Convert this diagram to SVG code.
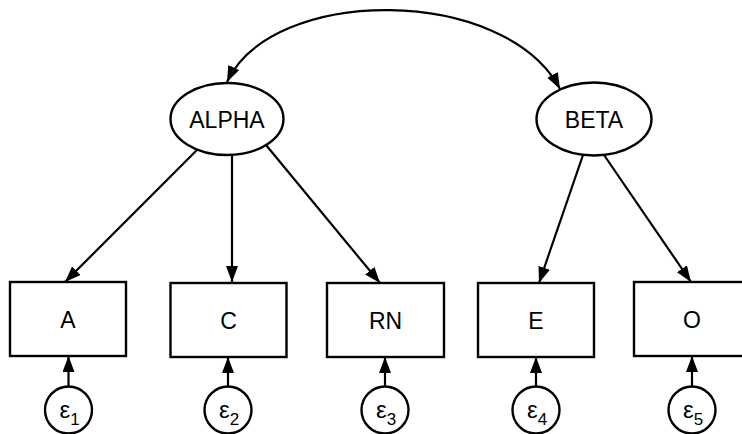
<svg xmlns="http://www.w3.org/2000/svg" width="742" height="434" viewBox="0 0 742 434">
  <defs>
    <marker id="arrow" markerUnits="userSpaceOnUse" markerWidth="17" markerHeight="13" refX="16" refY="6" orient="auto-start-reverse">
      <path d="M0,0 L16,6 L0,12 z" fill="#000"/>
    </marker>
    <style>
      .node { fill: #fff; stroke: #000; stroke-width: 2.4; }
      .lbl { font-family: "Liberation Sans", Arial, Helvetica, sans-serif; font-size: 23px; fill: #000; text-anchor: middle; }
      .eps { font-family: "Liberation Sans", Arial, Helvetica, sans-serif; font-size: 24px; fill: #000; }
      .sub { font-size: 17px; }
      .edge { fill: none; stroke: #000; stroke-width: 2.2; marker-end: url(#arrow); }
      .cov { marker-start: url(#arrow); }
    </style>
  </defs>

  <!-- connectors -->
  <g id="edges">
    <path class="edge cov" d="M227,82 C272,-15 505,-15 560,89"/>
    <line class="edge" x1="197" y1="150" x2="65" y2="282"/>
    <line class="edge" x1="232" y1="155" x2="232" y2="282"/>
    <line class="edge" x1="266" y1="145" x2="380" y2="283"/>
    <line class="edge" x1="583" y1="155" x2="539" y2="283"/>
    <line class="edge" x1="604" y1="155" x2="691" y2="282"/>
    <line class="edge" x1="68.5" y1="387" x2="68.5" y2="356"/>
    <line class="edge" x1="228" y1="387" x2="228" y2="357"/>
    <line class="edge" x1="385" y1="387" x2="385" y2="357"/>
    <line class="edge" x1="536" y1="387" x2="536" y2="357"/>
    <line class="edge" x1="692" y1="387" x2="692" y2="356"/>
  </g>

  <!-- latent factors -->
  <g id="ALPHA">
    <ellipse class="node" cx="227" cy="119" rx="56.5" ry="36"/>
    <text class="lbl" x="227" y="127.5">ALPHA</text>
  </g>
  <g id="BETA">
    <ellipse class="node" cx="594" cy="119" rx="57.5" ry="36.5"/>
    <text class="lbl" x="594" y="127.5">BETA</text>
  </g>

  <!-- observed indicators -->
  <g id="A">
    <rect class="node" x="10" y="282" width="116" height="74"/>
    <text class="lbl" x="68" y="327.5">A</text>
  </g>
  <g id="C">
    <rect class="node" x="170.5" y="283" width="116" height="74"/>
    <text class="lbl" x="228.5" y="328.5">C</text>
  </g>
  <g id="RN">
    <rect class="node" x="327" y="283" width="117" height="74"/>
    <text class="lbl" x="385.5" y="328.5">RN</text>
  </g>
  <g id="E">
    <rect class="node" x="478" y="283" width="116" height="74"/>
    <text class="lbl" x="536" y="328.5">E</text>
  </g>
  <g id="O">
    <rect class="node" x="634" y="282" width="116" height="74"/>
    <text class="lbl" x="692" y="327.5">O</text>
  </g>

  <!-- error terms -->
  <g id="e1">
    <circle class="node" cx="68.5" cy="410" r="23.5"/>
    <text class="eps" x="59.5" y="418">ε<tspan class="sub" dy="7">1</tspan></text>
  </g>
  <g id="e2">
    <circle class="node" cx="228" cy="410" r="23.5"/>
    <text class="eps" x="219" y="418">ε<tspan class="sub" dy="7">2</tspan></text>
  </g>
  <g id="e3">
    <circle class="node" cx="385" cy="410" r="23.5"/>
    <text class="eps" x="376" y="418">ε<tspan class="sub" dy="7">3</tspan></text>
  </g>
  <g id="e4">
    <circle class="node" cx="536" cy="410" r="23.5"/>
    <text class="eps" x="527" y="418">ε<tspan class="sub" dy="7">4</tspan></text>
  </g>
  <g id="e5">
    <circle class="node" cx="692" cy="410" r="23.5"/>
    <text class="eps" x="683" y="418">ε<tspan class="sub" dy="7">5</tspan></text>
  </g>
</svg>
